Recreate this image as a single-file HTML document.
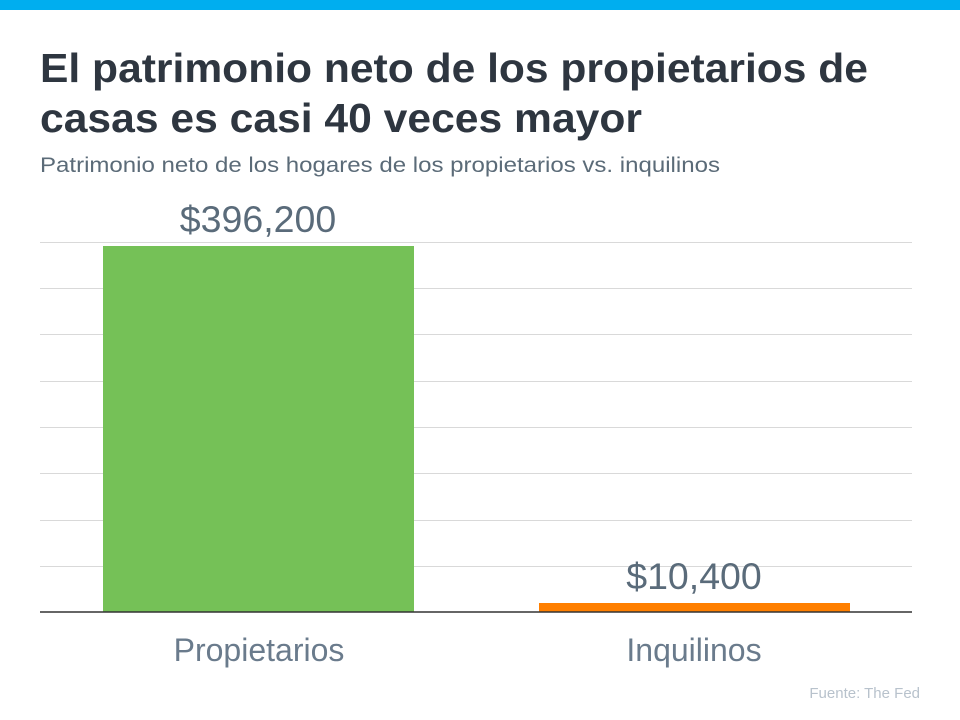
<!DOCTYPE html>
<html><head><meta charset="utf-8"><style>body{margin:0;background:#fff}svg{display:block}</style></head>
<body>
<svg width="960" height="720" xmlns="http://www.w3.org/2000/svg" font-family="Liberation Sans, Arial, sans-serif">
<rect x="0" y="0" width="960" height="10" fill="#00aeef"/>
<text x="40" y="82" font-size="41" font-weight="bold" fill="#2e3640" textLength="828" lengthAdjust="spacingAndGlyphs">El patrimonio neto de los propietarios de</text>
<text x="40" y="132" font-size="41" font-weight="bold" fill="#2e3640" textLength="602" lengthAdjust="spacingAndGlyphs">casas es casi 40 veces mayor</text>
<text x="40" y="172" font-size="21" fill="#5b6b78" textLength="680" lengthAdjust="spacingAndGlyphs">Patrimonio neto de los hogares de los propietarios vs. inquilinos</text>
<g stroke="#d9d9d9" stroke-width="1">
<line x1="40" x2="912" y1="242.5" y2="242.5"/>
<line x1="40" x2="912" y1="288.5" y2="288.5"/>
<line x1="40" x2="912" y1="334.5" y2="334.5"/>
<line x1="40" x2="912" y1="381.5" y2="381.5"/>
<line x1="40" x2="912" y1="427.5" y2="427.5"/>
<line x1="40" x2="912" y1="473.5" y2="473.5"/>
<line x1="40" x2="912" y1="520.5" y2="520.5"/>
<line x1="40" x2="912" y1="566.5" y2="566.5"/>
</g>
<rect x="103" y="246" width="311" height="366" fill="#75c157"/>
<rect x="539" y="603" width="311" height="9" fill="#ff7f00"/>
<line x1="40" x2="912" y1="612" y2="612" stroke="#333" stroke-width="1.5"/>
<text x="258" y="232" font-size="37.5" fill="#5a6b7a" text-anchor="middle">$396,200</text>
<text x="694" y="589" font-size="37.5" fill="#5a6b7a" text-anchor="middle">$10,400</text>
<text x="259" y="661" font-size="32" fill="#6a7b8c" text-anchor="middle">Propietarios</text>
<text x="694" y="661" font-size="32" fill="#6a7b8c" text-anchor="middle">Inquilinos</text>
<text x="920" y="698" font-size="15" fill="#b8c2cc" text-anchor="end">Fuente: The Fed</text>
</svg>
</body></html>
